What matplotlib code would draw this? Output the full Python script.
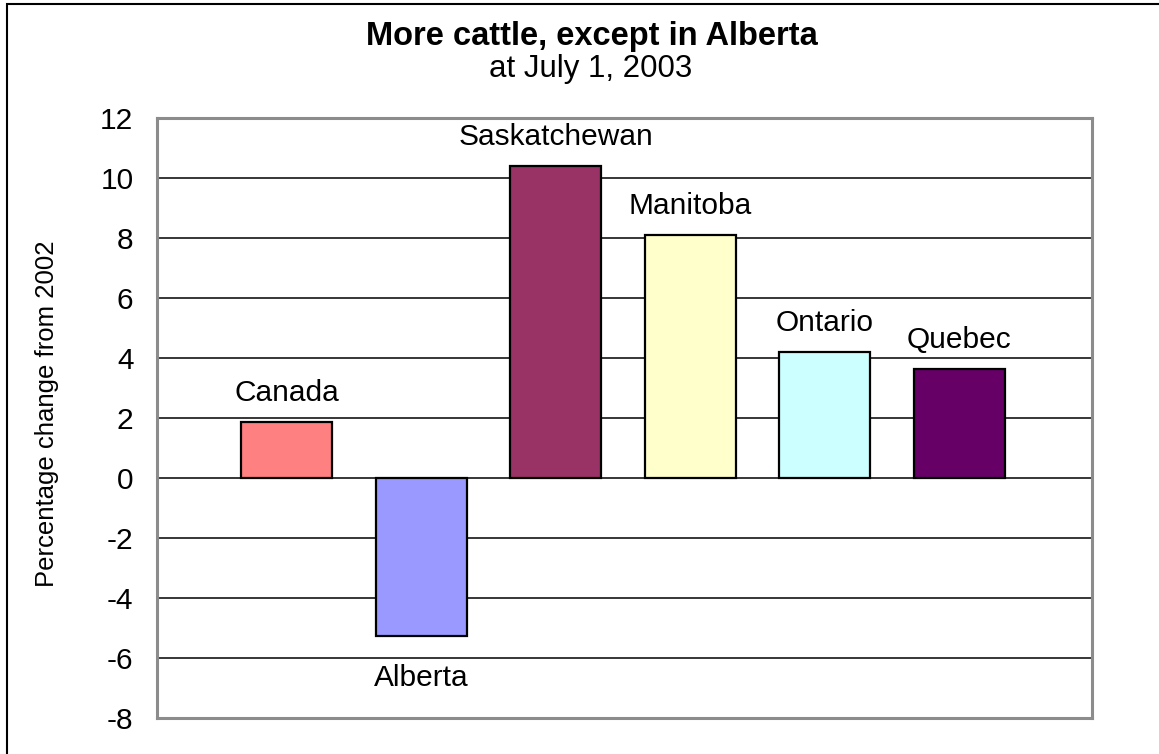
import matplotlib.pyplot as plt
from matplotlib.patches import Rectangle

plt.rcParams['font.family'] = ['Liberation Sans', 'DejaVu Sans']

# data
regions = ["Canada", "Alberta", "Saskatchewan", "Manitoba", "Ontario", "Quebec"]
pct_change = [1.87, -5.28, 10.39, 8.11, 4.20, 3.64]
bar_colors = ["#FF8080", "#9999FF", "#993366", "#FFFFCC", "#CCFFFF", "#660066"]
y_ticks = [-8, -6, -4, -2, 0, 2, 4, 6, 8, 10, 12]

W, H = 1159, 754
fig = plt.figure(figsize=(W / 100, H / 100), dpi=100)
ax = fig.add_axes([157 / W, 1 - 718 / H, (1092 - 157) / W, (718 - 118) / H])

x = list(range(len(regions)))
ax.bar(x, pct_change, width=0.676, color=bar_colors, edgecolor="black",
       linewidth=1.6, zorder=3)

for xi, val, name in zip(x, pct_change, regions):
    off = 21 if val >= 0 else -30
    ax.annotate(name, (xi, val), xytext=(0, off), textcoords="offset points",
                ha="center", va="center", fontsize=21.5, zorder=4)

ax.set_xlim(-0.962, 5.985)
ax.set_ylim(y_ticks[0], y_ticks[-1])
ax.set_yticks(y_ticks)
ax.set_yticklabels([str(t) for t in y_ticks])
ax.set_xticks([])
ax.tick_params(axis="y", length=0, pad=17, labelsize=21.5)
ax.grid(axis="y", color="black", linewidth=1.1, zorder=1)
ax.set_axisbelow(True)
for sp in ax.spines.values():
    sp.set_color("#8c8c8c")
    sp.set_linewidth(2.2)

fig.text(0.511, 1 - 36 / H, "More cattle, except in Alberta", ha="center",
         va="center", fontsize=23.5, fontweight="bold")
fig.text(0.510, 1 - 69 / H, "at July 1, 2003", ha="center", va="center",
         fontsize=22.5)
fig.text(47 / W, 1 - 414 / H, "Percentage change from 2002", rotation=90,
         ha="center", va="center", fontsize=18.5)

# outer chart border (right/bottom edges fall outside the picture)
fig.patches.append(Rectangle((7 / W, -0.05), 1.2, 1.05 - 4 / H,
                             transform=fig.transFigure, fill=False,
                             edgecolor="black", linewidth=1.5))

fig.savefig("out.png", dpi=100, facecolor="white")
